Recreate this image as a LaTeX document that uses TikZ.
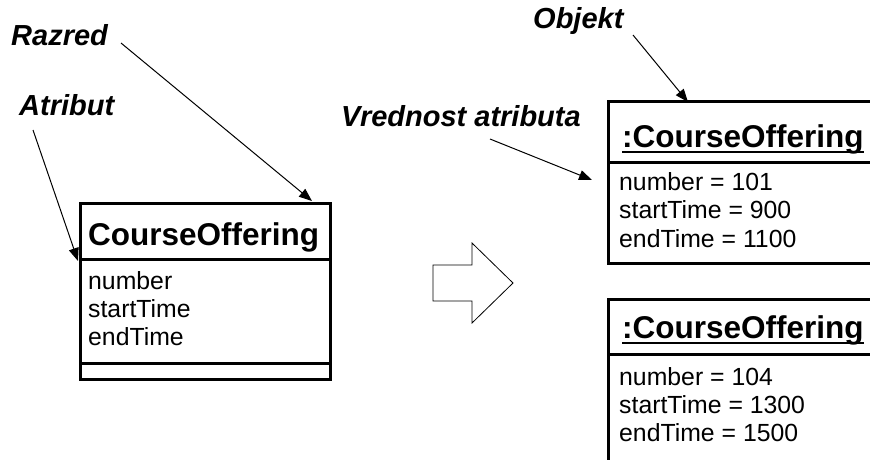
\documentclass[tikz,border=0pt]{standalone}
\usepackage{fontspec}
\setmainfont{Liberation Sans}
\usetikzlibrary{arrows.meta,calc}
\begin{document}
\begin{tikzpicture}[x=1pt,y=-1pt,
  lbl/.style={anchor=base west,inner sep=0pt,font=\fontsize{29}{33}\selectfont\bfseries\itshape},
  ttl/.style={anchor=base west,inner sep=0pt,font=\fontsize{31.5}{36}\selectfont\bfseries},
  attr/.style={anchor=base west,inner sep=0pt,font=\fontsize{24.8}{28}\selectfont},
  umlbox/.style={line width=3pt},
  pointer/.style={line width=1pt,-{Triangle[length=13pt,width=10pt]}},
  bigarrow/.style={line width=0.8pt}]
\useasboundingbox (0,0) rectangle (870,459);
\clip (0,0) rectangle (870,459);
% labels
\node[lbl] (razred) at (11,45) {Razred};
\node[lbl] (atribut) at (19,115) {Atribut};
\node[lbl] (objekt) at (533,28) {Objekt};
\node[lbl] (vrednost) at (341,126) {Vrednost atributa};
% class box
\draw[umlbox] (80,203) rectangle (330,379);
\draw[umlbox] (80,259) -- (330,259);
\draw[umlbox] (80,363) -- (330,363);
\node[ttl] (cls) at (88,245) {CourseOffering};
\node[attr] (c1) at (88,289) {number};
\node[attr] (c2) at (88,317) {startTime};
\node[attr] (c3) at (88,345) {endTime};
% object box 1
\draw[umlbox] (890,101) -- (608,101) -- (608,263) -- (890,263);
\draw[umlbox] (608,162) -- (890,162);
\node[ttl] (o1) at (622,147) {:CourseOffering};
\draw[line width=2.5pt] ($(o1.base west)+(0,5)$) -- ($(o1.base east)+(0,5)$);
\node[attr] (o1a) at (619,190) {number = 101};
\node[attr] (o1b) at (619,218) {startTime = 900};
\node[attr] (o1c) at (619,247) {endTime = 1100};
% object box 2
\draw[umlbox] (890,299) -- (608,299) -- (608,470);
\draw[umlbox] (608,354) -- (890,354);
\node[ttl] (o2) at (622,338) {:CourseOffering};
\draw[line width=2.5pt] ($(o2.base west)+(0,5)$) -- ($(o2.base east)+(0,5)$);
\node[attr] (o2a) at (619,385) {number = 104};
\node[attr] (o2b) at (619,413) {startTime = 1300};
\node[attr] (o2c) at (619,441) {endTime = 1500};
% hollow arrow
\draw[bigarrow] (433,265) -- (472,265) -- (472,243) -- (513,283) -- (472,323) -- (472,301) -- (433,301) -- cycle;
% pointers
\coordinate (razredS) at (121,43);
\coordinate (razredE) at (312,201);
\coordinate (atributS) at (33,130);
\coordinate (atributE) at (78,261);
\coordinate (objektS) at (633,35);
\coordinate (objektE) at (688,102);
\coordinate (vrednostS) at (490,139);
\coordinate (vrednostE) at (592,180);
\draw[pointer] (razredS) -- (razredE);
\draw[pointer] (atributS) -- (atributE);
\draw[pointer] (objektS) -- (objektE);
\draw[pointer] (vrednostS) -- (vrednostE);
\end{tikzpicture}
\end{document}
